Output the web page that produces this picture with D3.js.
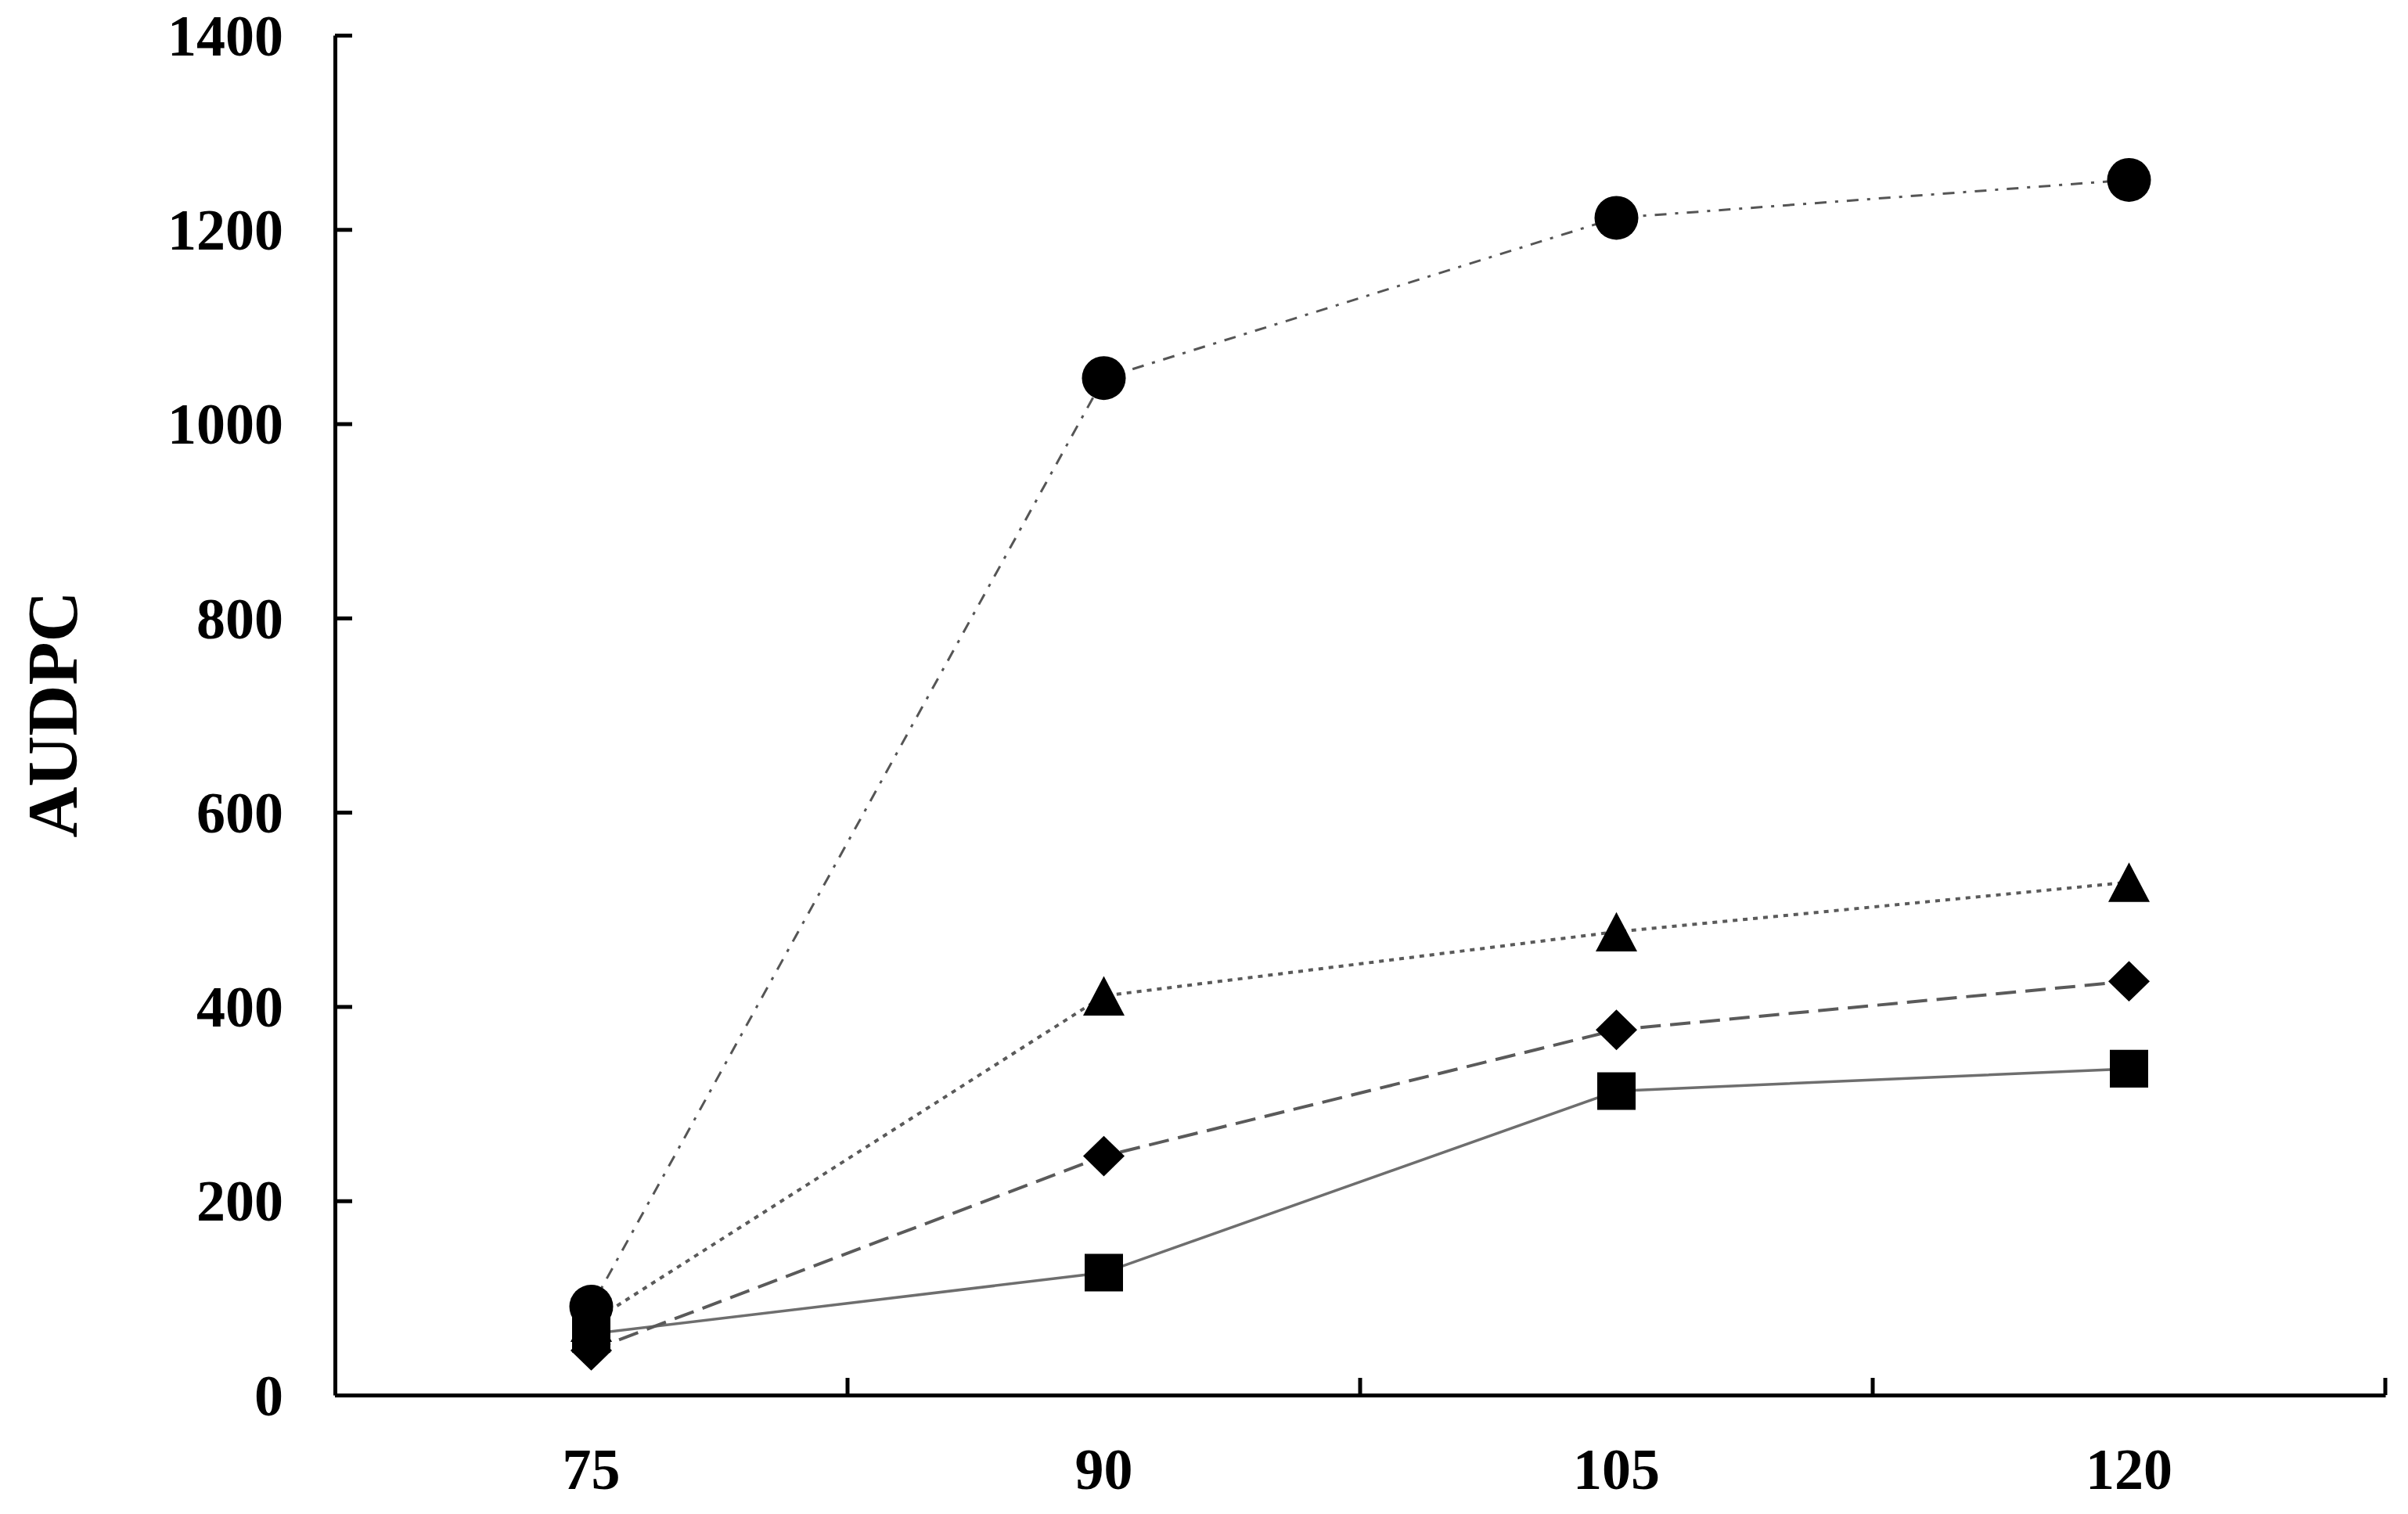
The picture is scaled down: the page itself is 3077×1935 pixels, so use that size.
<!DOCTYPE html>
<html>
<head>
<meta charset="utf-8">
<script src="https://cdn.jsdelivr.net/npm/d3@7"></script>
<style>
  html, body { margin: 0; padding: 0; background: #fff; }
  svg { display: block; }
  text { font-family: "Liberation Serif", "Times New Roman", serif; font-weight: bold; fill: #000; }
</style>
</head>
<body>
<svg id="chart" width="3077" height="1935"></svg>
<script>
// ---- data ----
const categories = ["75", "90", "105", "120"];
const yTicks = [0, 200, 400, 600, 800, 1000, 1200, 1400];
const seriesCircle   = [91, 1047, 1212, 1251];
const seriesTriangle = [75, 411, 477, 528];
const seriesDiamond  = [46, 246, 376, 426];
const seriesSquare   = [63, 126, 313, 336];
const yLabel = "AUDPC";

// ---- layout ----
const plotLeft = 428, plotRight = 3048, plotTop = 45, plotBottom = 1783;

const svg = d3.select("#chart");

const x = d3.scaleBand().domain(categories).range([plotLeft, plotRight]).padding(0);
const y = d3.scaleLinear().domain([0, 1400]).range([plotBottom, plotTop]);

// custom symbol types (size = width^2)
const symTriangle = { draw(ctx, size) { const w = Math.sqrt(size) / 2, h = w * 0.95;
  ctx.moveTo(0, -h); ctx.lineTo(w, h); ctx.lineTo(-w, h); ctx.closePath(); } };
const symDiamond = { draw(ctx, size) { const w = Math.sqrt(size) / 2, h = w * 0.98;
  ctx.moveTo(0, -h); ctx.lineTo(w, 0); ctx.lineTo(0, h); ctx.lineTo(-w, 0); ctx.closePath(); } };
const symSquare = { draw(ctx, size) { const w = Math.sqrt(size) / 2, h = w * 0.98;
  ctx.moveTo(-w, -h); ctx.lineTo(w, -h); ctx.lineTo(w, h); ctx.lineTo(-w, h); ctx.closePath(); } };
const symCircle = { draw(ctx, size) { const r = Math.sqrt(size) / 2;
  ctx.moveTo(r, 0); ctx.arc(0, 0, r, 0, 2 * Math.PI); } };

const series = [
  { values: seriesSquare,   sym: symSquare,   size: 49 * 49, dash: null,          color: "#6e6e6e", width: 3.5 },
  { values: seriesDiamond,  sym: symDiamond,  size: 53 * 53, dash: "26,12",       color: "#5a5a5a", width: 4 },
  { values: seriesTriangle, sym: symTriangle, size: 53 * 53, dash: "6,7",         color: "#5a5a5a", width: 4 },
  { values: seriesCircle,   sym: symCircle,   size: 56 * 56, dash: "15,11,4,11",  color: "#555555", width: 3 }
];

const cx = c => x(c) + x.bandwidth() / 2;

// lines
const line = d3.line().x((d, i) => cx(categories[i])).y(d => y(d));
series.forEach(s => {
  svg.append("path")
    .datum(s.values)
    .attr("d", line)
    .attr("fill", "none")
    .attr("stroke", s.color)
    .attr("stroke-width", s.width)
    .attr("stroke-dasharray", s.dash);
});

// markers
series.forEach(s => {
  svg.append("g").selectAll("path")
    .data(s.values)
    .join("path")
    .attr("transform", (d, i) => `translate(${cx(categories[i])},${y(d)})`)
    .attr("d", d3.symbol().type(s.sym).size(s.size))
    .attr("fill", "#000");
});

// y axis
const yAxis = d3.axisLeft(y).tickValues(yTicks).tickFormat(d3.format("d"))
  .tickSizeInner(-22).tickSizeOuter(0).tickPadding(66);
const gy = svg.append("g").attr("transform", `translate(${plotLeft},0)`).call(yAxis);
gy.select(".domain").attr("stroke", "#000").attr("stroke-width", 5);
gy.selectAll(".tick line").attr("stroke", "#000").attr("stroke-width", 5);
gy.selectAll(".tick text").attr("font-size", 74).attr("font-family", "Liberation Serif, serif")
  .attr("font-weight", "bold").attr("dy", "0.34em");

// x axis (labels at category centres)
const xAxis = d3.axisBottom(x).tickSize(0).tickSizeOuter(0);
const gx = svg.append("g").attr("transform", `translate(0,${plotBottom})`).call(xAxis);
gx.select(".domain").attr("stroke", "#000").attr("stroke-width", 5);
gx.selectAll(".tick text").attr("font-size", 74).attr("font-family", "Liberation Serif, serif")
  .attr("font-weight", "bold").attr("y", 120).attr("dy", 0);

// category boundary ticks (inward)
const boundaries = categories.slice(1).map(c => x(c)).concat([x.range()[1]]);
svg.append("g").selectAll("line")
  .data(boundaries)
  .join("line")
  .attr("x1", d => d).attr("x2", d => d)
  .attr("y1", plotBottom).attr("y2", plotBottom - 22)
  .attr("stroke", "#000").attr("stroke-width", 5);

// y label
svg.append("text")
  .attr("transform", `translate(98,913) rotate(-90)`)
  .attr("text-anchor", "middle")
  .attr("font-size", 90)
  .text(yLabel);
</script>
</body>
</html>
